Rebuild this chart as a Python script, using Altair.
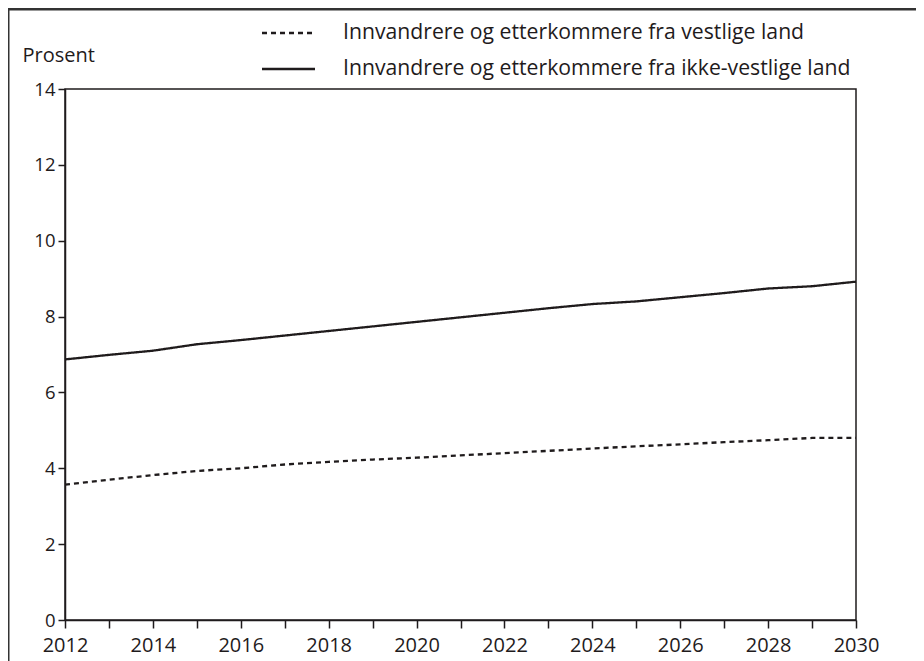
import altair as alt
import pandas as pd

years = list(range(2012, 2031))
vestlige = [3.57, 3.70, 3.82, 3.93, 4.00, 4.10, 4.17, 4.23, 4.28, 4.34, 4.40,
            4.46, 4.52, 4.58, 4.63, 4.69, 4.74, 4.80, 4.80]
ikke_vestlige = [6.87, 6.99, 7.10, 7.27, 7.38, 7.50, 7.62, 7.74, 7.86, 7.98, 8.10,
                 8.22, 8.33, 8.40, 8.51, 8.62, 8.74, 8.80, 8.92]
series_names = ["Innvandrere og etterkommere fra vestlige land",
                "Innvandrere og etterkommere fra ikke-vestlige land"]
y_ticks = [0, 2, 4, 6, 8, 10, 12, 14]

INK = "#1f1b1c"
FONT = "Open Sans"

df = pd.DataFrame({
    "year": years * 2,
    "value": vestlige + ikke_vestlige,
    "series": [series_names[0]] * len(years) + [series_names[1]] * len(years),
})

x_enc = alt.X("year:Q", scale=alt.Scale(domain=[2012, 2030], nice=False),
              axis=alt.Axis(values=years, format="d", title=None, grid=False,
                            labelExpr="datum.value % 2 == 0 ? datum.label : ''",
                            tickSize=8, labelPadding=7, labelFontSize=20,
                            labelFont=FONT, labelColor=INK, domainColor=INK,
                            tickColor=INK, domainWidth=1.5, tickWidth=1.5,
                            labelFlush=False))
y_enc = alt.Y("value:Q", scale=alt.Scale(domain=[0, 14], nice=False),
              axis=alt.Axis(values=y_ticks, title="Prosent", grid=False,
                            tickSize=7, labelPadding=3, labelFontSize=18.5,
                            labelFont=FONT, labelColor=INK, domainColor=INK,
                            tickColor=INK, domainWidth=1.5, tickWidth=1.5,
                            titleAngle=0, titleX=-43, titleY=-34,
                            titleAlign="left", titleBaseline="middle",
                            titleFont=FONT, titleFontSize=20,
                            titleFontWeight="normal", titleColor=INK))

lines = alt.Chart(df).mark_line(strokeWidth=2.3, color=INK).encode(
    x=x_enc,
    y=y_enc,
    strokeDash=alt.StrokeDash("series:N",
                              scale=alt.Scale(domain=series_names,
                                              range=[[5, 4], [1, 0]]),
                              legend=None),
)

one = pd.DataFrame({"a": [0]})
leg_df = pd.DataFrame({"series": series_names})

# manual legend
leg_dash = alt.Chart(one).mark_rule(strokeWidth=2.3, color=INK, strokeDash=[5, 4]).encode(
    x=alt.value(197), x2=alt.value(250), y=alt.value(-56))
leg_solid = alt.Chart(one).mark_rule(strokeWidth=2.3, color=INK).encode(
    x=alt.value(197), x2=alt.value(250), y=alt.value(-20))
leg_t1 = alt.Chart(leg_df.iloc[[0]]).mark_text(
    align="left", baseline="middle", font=FONT, fontSize=21.2, color=INK).encode(
    x=alt.value(278), y=alt.value(-56), text="series:N")
leg_t2 = alt.Chart(leg_df.iloc[[1]]).mark_text(
    align="left", baseline="middle", font=FONT, fontSize=21.2, color=INK).encode(
    x=alt.value(278), y=alt.value(-20), text="series:N")

# outer frame
frame_left = alt.Chart(one).mark_rule(strokeWidth=3, color="#333333").encode(
    x=alt.value(-57), y=alt.value(-80), y2=alt.value(700))
frame_top = alt.Chart(one).mark_rule(strokeWidth=3, color="#333333").encode(
    x=alt.value(-58), x2=alt.value(900), y=alt.value(-80))

chart = alt.layer(lines, leg_dash, leg_solid, leg_t1, leg_t2, frame_left, frame_top).properties(
    width=791, height=531,
    autosize=alt.AutoSizeParams(type="none"),
    padding={"left": 57, "top": 81, "right": 60, "bottom": 45},
    background="white",
).configure_view(stroke=INK, strokeWidth=1.5)

chart.save("out.html", embed_options={"renderer": "svg", "actions": False})
